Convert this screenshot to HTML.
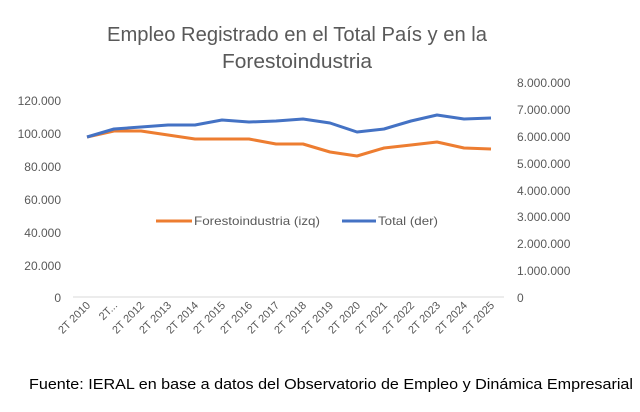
<!DOCTYPE html>
<html><head><meta charset="utf-8"><style>
html,body{margin:0;padding:0;background:#fff;}
svg{display:block;font-family:"Liberation Sans",sans-serif;}
</style></head><body>
<svg width="640" height="412" viewBox="0 0 640 412">
<text x="297" y="41" font-size="20" fill="#595959" text-anchor="middle" textLength="380" lengthAdjust="spacingAndGlyphs">Empleo Registrado en el Total País y en la</text>
<text x="297" y="68" font-size="20" fill="#595959" text-anchor="middle" textLength="150" lengthAdjust="spacingAndGlyphs">Forestoindustria</text>
<g font-size="12" fill="#595959" text-anchor="end">
<text x="61" y="105">120.000</text>
<text x="61" y="138">100.000</text>
<text x="61" y="171">80.000</text>
<text x="61" y="204">60.000</text>
<text x="61" y="237">40.000</text>
<text x="61" y="270">20.000</text>
<text x="61" y="302">0</text>
</g>
<g font-size="12" fill="#595959">
<text x="517" y="87">8.000.000</text>
<text x="517" y="114">7.000.000</text>
<text x="517" y="141">6.000.000</text>
<text x="517" y="168">5.000.000</text>
<text x="517" y="195">4.000.000</text>
<text x="517" y="221">3.000.000</text>
<text x="517" y="248">2.000.000</text>
<text x="517" y="275">1.000.000</text>
<text x="517" y="302">0</text>
</g>
<line x1="73" y1="297" x2="504" y2="297" stroke="#d9d9d9" stroke-width="1"/>
<polyline fill="none" stroke="#ED7D31" stroke-width="3" stroke-linejoin="round" points="87,137 114,131 141,131 168,135 195,139 222,139 249,139 276,144 303,144 330,152 357,156 384,148 411,145 437,142 464,148 491,149"/>
<polyline fill="none" stroke="#4472C4" stroke-width="3" stroke-linejoin="round" points="87,137 114,129 141,127 168,125 195,125 222,120 249,122 276,121 303,119 330,123 357,132 384,129 411,121 437,115 464,119 491,118"/>
<line x1="156" y1="221" x2="192" y2="221" stroke="#ED7D31" stroke-width="3"/>
<text x="194" y="225" font-size="12" fill="#595959" textLength="126" lengthAdjust="spacingAndGlyphs">Forestoindustria (izq)</text>
<line x1="342" y1="221" x2="376" y2="221" stroke="#4472C4" stroke-width="3"/>
<text x="378" y="225" font-size="12" fill="#595959" textLength="60" lengthAdjust="spacingAndGlyphs">Total (der)</text>
<g font-size="11" fill="#595959" text-anchor="end">
<text transform="translate(91,306) rotate(-45)">2T 2010</text>
<text transform="translate(118,306) rotate(-45)">2T...</text>
<text transform="translate(145,306) rotate(-45)">2T 2012</text>
<text transform="translate(172,306) rotate(-45)">2T 2013</text>
<text transform="translate(199,306) rotate(-45)">2T 2014</text>
<text transform="translate(226,306) rotate(-45)">2T 2015</text>
<text transform="translate(253,306) rotate(-45)">2T 2016</text>
<text transform="translate(280,306) rotate(-45)">2T 2017</text>
<text transform="translate(307,306) rotate(-45)">2T 2018</text>
<text transform="translate(334,306) rotate(-45)">2T 2019</text>
<text transform="translate(361,306) rotate(-45)">2T 2020</text>
<text transform="translate(388,306) rotate(-45)">2T 2021</text>
<text transform="translate(415,306) rotate(-45)">2T 2022</text>
<text transform="translate(441,306) rotate(-45)">2T 2023</text>
<text transform="translate(468,306) rotate(-45)">2T 2024</text>
<text transform="translate(495,306) rotate(-45)">2T 2025</text>
</g>
<text x="29" y="389" font-size="15" fill="#000" textLength="604" lengthAdjust="spacingAndGlyphs">Fuente: IERAL en base a datos del Observatorio de Empleo y Dinámica Empresarial</text>
</svg>
</body></html>
